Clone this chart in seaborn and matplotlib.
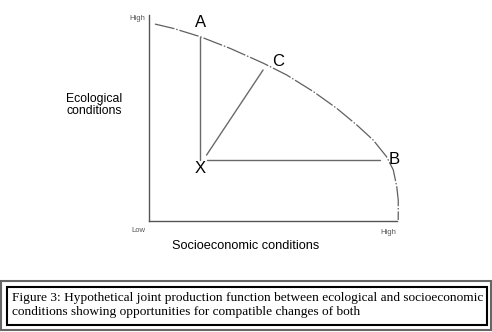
import matplotlib
matplotlib.use("Agg")
import matplotlib.pyplot as plt
import seaborn as sns
import pandas as pd
from matplotlib.patches import Rectangle

sns.set_theme(style="white")
plt.rcParams["font.family"] = ["Liberation Sans", "DejaVu Sans"]

# frontier (joint production function)
curve_x = [0.24, 0.98, 2.06, 3.27, 4.61, 5.55, 6.63, 7.57, 8.38, 9.04, 9.58, 9.85, 9.99, 10.05, 10.05]
curve_y = [9.56, 9.35, 8.95, 8.38, 7.66, 7.09, 6.28, 5.47, 4.66, 3.93, 3.12, 2.48, 1.67, 1.02, 0.05]

# points
point_names = ["X", "A", "B", "C"]
point_x = [2.04, 2.04, 9.31, 4.60]
point_y = [2.95, 8.93, 2.95, 7.33]
label_x = [2.06, 2.06, 9.88, 5.20]
label_y = [2.55, 9.62, 3.00, 7.76]

axis_ends = ["Low", "High"]
x_title = "Socioeconomic conditions"
y_title = "Ecological\nconditions"
caption = ("Figure 3: Hypothetical joint production function between ecological and socioeconomic\n"
           "conditions showing opportunities for compatible changes of both")

W, H = 492, 332
fig = plt.figure(figsize=(W / 100, H / 100), dpi=100)
ax = fig.add_axes([149 / W, 1 - 221 / H, (397 - 149) / W, (221 - 15) / H])
ax.set_xlim(0, 10)
ax.set_ylim(0, 10)

curve = pd.DataFrame({"x": curve_x, "y": curve_y})
sns.lineplot(data=curve, x="x", y="y", sort=False, estimator=None, ax=ax, color="#606060",
             linewidth=0.9, linestyle=(0, (16, 1.5, 1.2, 1.5)), clip_on=False)

seg_col = "#6a6a6a"
# X -> A (vertical), X -> B (horizontal), X -> C (diagonal)
xi, yi = point_x[0], point_y[0]
for k, start in zip([1, 2, 3], [(xi, yi + 0.0), (xi + 0.3, yi), (xi + 0.28, yi + 0.25)]):
    seg = pd.DataFrame({"x": [start[0], point_x[k]], "y": [start[1], point_y[k]]})
    sns.lineplot(data=seg, x="x", y="y", sort=False, estimator=None, ax=ax,
                 color=seg_col, linewidth=1.0)

for name, lx, ly in zip(point_names, label_x, label_y):
    ax.text(lx, ly, name, ha="center", va="center", fontsize=12, color="black")

for s in ["top", "right"]:
    ax.spines[s].set_visible(False)
for s in ["left", "bottom"]:
    ax.spines[s].set_color("#555555")
    ax.spines[s].set_linewidth(1.0)
ax.set_xticks([])
ax.set_yticks([])
ax.set_xlabel("")
ax.set_ylabel("")

small = dict(fontsize=5.5, color="#555555")
fig.text(145 / W, 1 - 18 / H, axis_ends[1], ha="right", va="center", **small)
fig.text(145 / W, 1 - 230 / H, axis_ends[0], ha="right", va="center", **small)
fig.text(388 / W, 1 - 232 / H, axis_ends[1], ha="center", va="center", **small)

fig.text(246 / W, 1 - 246 / H, x_title, ha="center", va="center", fontsize=9.2, color="black")
fig.text(94 / W, 1 - 105 / H, y_title, ha="center", va="center", fontsize=8.8,
         color="black", linespacing=1.1)

# caption boxes
fig.patches.append(Rectangle((1 / W, 1 - 330 / H), 490 / W, 49 / H, transform=fig.transFigure,
                             fill=False, edgecolor="#666666", linewidth=1.5))
fig.patches.append(Rectangle((7 / W, 1 - 325 / H), 480 / W, 38 / H, transform=fig.transFigure,
                             fill=False, edgecolor="black", linewidth=1.5))
fig.text(12 / W, 1 - 305 / H, caption, ha="left", va="center", fontsize=9.6,
         family=["Liberation Serif", "DejaVu Serif"], color="black", linespacing=1.3)

fig.savefig("out.png", dpi=100)
